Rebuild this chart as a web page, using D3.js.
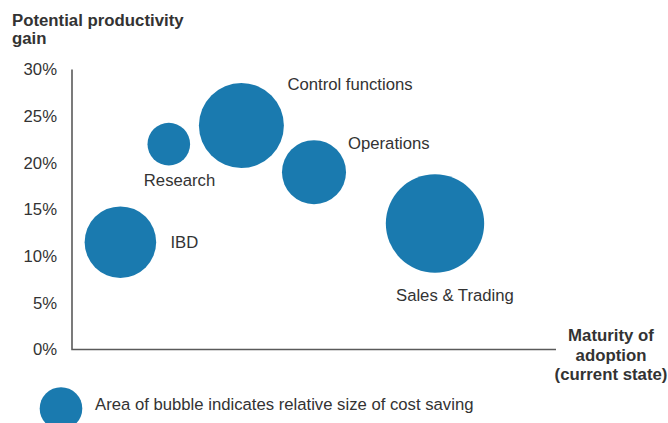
<!DOCTYPE html>
<html>
<head>
<meta charset="utf-8">
<script src="https://cdn.jsdelivr.net/npm/d3@7"></script>
<style>
  body { margin: 0; background: #fff; }
  svg { display: block; font-family: "Liberation Sans", Arial, sans-serif; }
</style>
</head>
<body>
<div id="chart"></div>
<script>
// bubble data
var names = ["IBD", "Research", "Control functions", "Operations", "Sales & Trading"]
var maturity = [1, 2, 3.5, 5, 7.5]          // x, no ticks shown
var productivity = [11.5, 22, 24, 19, 13.5] // y, percent
var costSaving = [2.82, 1.0, 3.98, 2.26, 5.33] // relative, bubble area
var yTicks = [0, 5, 10, 15, 20, 25, 30]

var width = 668
var height = 423
var blue = "#1a7aaf"
var textColor = "#333"
var fontSize = "16.7px"

// where each label sits relative to its bubble
var labelOffset = {
    "IBD": [50, 0],
    "Research": [-25, 36],
    "Control functions": [46, -41],
    "Operations": [34, -29],
    "Sales & Trading": [-39, 72]
}

const svg = d3.select("#chart")
    .append("svg")
    .attr("width", width)
    .attr("height", height)

var x = d3.scaleLinear()
    .domain([0, 10])
    .range([72, 556])

var y = d3.scaleLinear()
    .domain([0, 30])
    .range([349.5, 69.5])

var r = d3.scaleSqrt()
    .domain([0, 1])
    .range([0, 21.3])

// y axis tick labels
var y_axis = d3.axisLeft(y)
    .tickValues(yTicks)
    .tickFormat((d) => d + "%")
    .tickSize(0)
    .tickPadding(15)

svg.append("g")
    .attr("transform", "translate(72,0)")
    .call(y_axis)
    .call((g) => g.select(".domain").remove())
    .selectAll("text")
    .style("font-size", fontSize)
    .style("font-family", "Liberation Sans, Arial, sans-serif")
    .attr("fill", textColor)

// axis lines
svg.append("path")
    .attr("d", "M" + x(0) + "," + y(30) + "V" + y(0) + "H" + x(10))
    .attr("fill", "none")
    .attr("stroke", "#5a5a5a")
    .attr("stroke-width", 1.6)

var data = names.map((n, i) => ({ name: n, x: maturity[i], y: productivity[i], v: costSaving[i] }))

svg.selectAll("circle.bubble")
    .data(data)
    .enter()
    .append("circle")
    .attr("class", "bubble")
    .attr("cx", (d) => x(d.x))
    .attr("cy", (d) => y(d.y))
    .attr("r", (d) => r(d.v))
    .attr("fill", blue)

svg.selectAll("text.label")
    .data(data)
    .enter()
    .append("text")
    .attr("class", "label")
    .attr("x", (d) => x(d.x) + labelOffset[d.name][0])
    .attr("y", (d) => y(d.y) + labelOffset[d.name][1])
    .attr("dy", "0.35em")
    .style("font-size", fontSize)
    .attr("fill", textColor)
    .text((d) => d.name)

// y axis title
var yTitle = svg.append("text")
    .attr("x", 12)
    .attr("y", 26)
    .style("font-size", "16.8px")
    .style("font-weight", "bold")
    .attr("fill", textColor)
yTitle.append("tspan").attr("x", 12).text("Potential productivity")
yTitle.append("tspan").attr("x", 12).attr("dy", 18).text("gain")

// x axis title
var xTitle = svg.append("text")
    .attr("x", 611)
    .attr("y", 341)
    .style("font-size", "16.8px")
    .style("font-weight", "bold")
    .style("text-anchor", "middle")
    .attr("fill", textColor)
xTitle.append("tspan").attr("x", 611).text("Maturity of")
xTitle.append("tspan").attr("x", 611).attr("dy", 19.5).text("adoption")
xTitle.append("tspan").attr("x", 611).attr("dy", 19.5).text("(current state)")

// legend
svg.append("circle")
    .attr("cx", 61)
    .attr("cy", 408.5)
    .attr("r", r(1))
    .attr("fill", blue)

svg.append("text")
    .attr("x", 95)
    .attr("y", 404)
    .attr("dy", "0.35em")
    .style("font-size", fontSize)
    .attr("fill", textColor)
    .text("Area of bubble indicates relative size of cost saving")
</script>
</body>
</html>
